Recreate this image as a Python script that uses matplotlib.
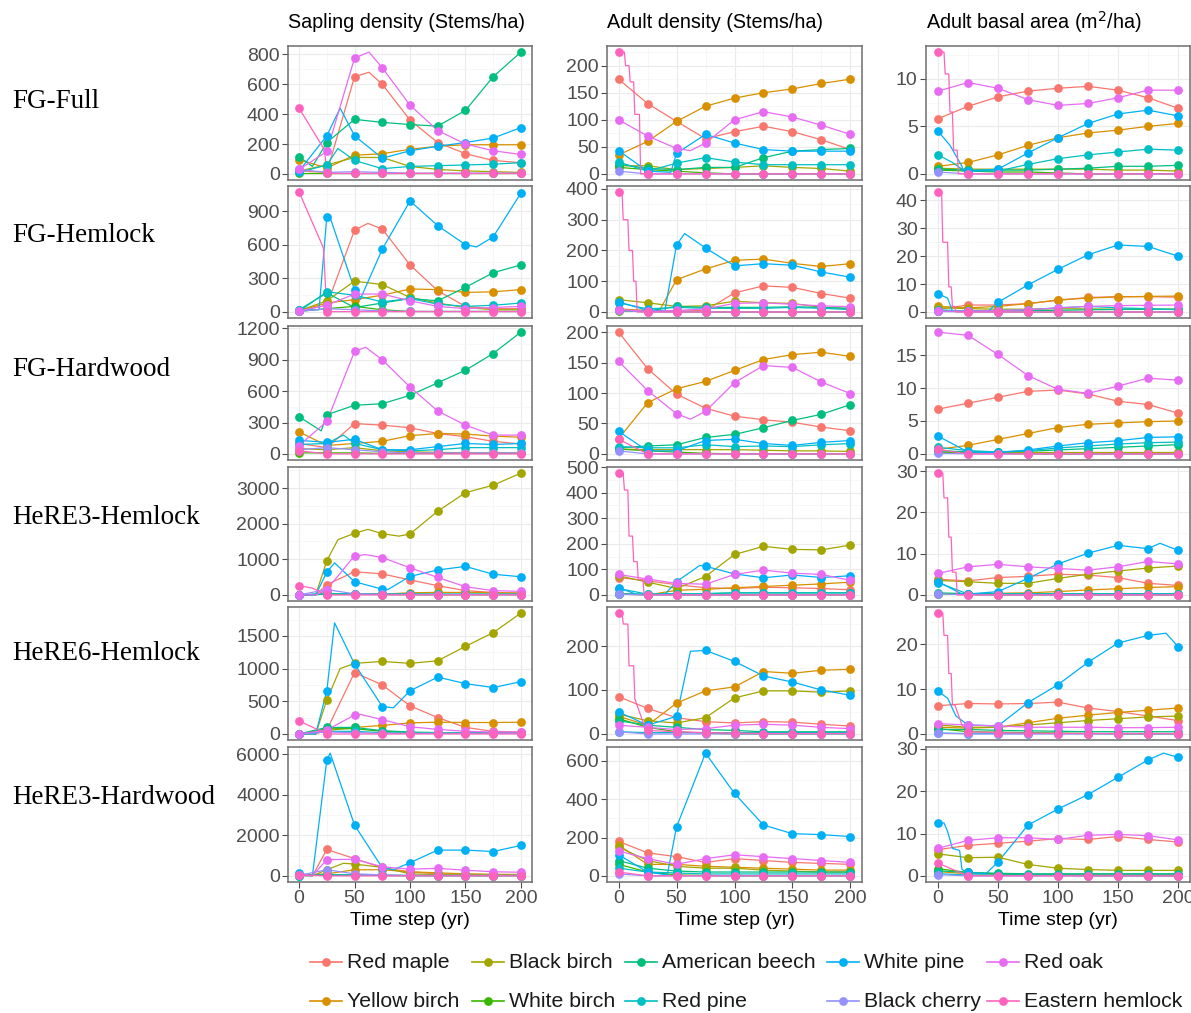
import matplotlib
matplotlib.use("Agg")
import matplotlib.pyplot as plt
from matplotlib.lines import Line2D
from matplotlib.ticker import AutoMinorLocator

W, H = 1191, 1013

SPECIES = ["Red maple", "Yellow birch", "Black birch", "White birch", "American beech",
           "Red pine", "White pine", "Black cherry", "Red oak", "Eastern hemlock"]
COLORS = ["#F8766D", "#D89000", "#A3A500", "#39B600", "#00BF7D",
          "#00BFC4", "#00B0F6", "#9590FF", "#E76BF3", "#FF62BC"]
YEARS = [0, 25, 50, 75, 100, 125, 150, 175, 200]

ROW_LABELS = ["FG-Full", "FG-Hemlock", "FG-Hardwood",
              "HeRE3-Hemlock", "HeRE6-Hemlock", "HeRE3-Hardwood"]
COL_TITLES = ["Sapling density (Stems/ha)", "Adult density (Stems/ha)",
              r"Adult basal area (m$^2$/ha)"]

# ---------------- FG-Full ----------------
fg_full_sap = {
    "Red maple":       [20, 10, 650, 600, 360, 210, 135, 90, 75],
    "Yellow birch":    [95, 40, 125, 135, 165, 185, 195, 195, 195],
    "Black birch":     [20, 60, 110, 110, 50, 30, 20, 15, 10],
    "White birch":     [5, 5, 5, 5, 5, 5, 5, 5, 5],
    "American beech":  [115, 210, 365, 345, 330, 320, 425, 650, 815],
    "Red pine":        [10, 60, 90, 35, 50, 55, 60, 65, 75],
    "White pine":      [20, 255, 255, 105, 155, 185, 210, 240, 310],
    "Black cherry":    [30, 10, 15, 10, 5, 5, 5, 5, 5],
    "Red oak":         [30, 150, 775, 710, 460, 290, 200, 155, 130],
    "Eastern hemlock": [440, 3, 3, 3, 3, 3, 3, 3, 3],
}
fg_full_sap_knots = {
    "Red oak": [(63, 815)], "Red maple": [(63, 680)], "White pine": [(37, 440)],
    "Red pine": [(35, 170)], "Eastern hemlock": [(23, 160)], "American beech": [(12, 50)],
}
fg_full_adult = {
    "Red maple":       [175, 130, 97, 65, 78, 88, 78, 63, 45],
    "Yellow birch":    [35, 60, 97, 125, 140, 150, 157, 167, 175],
    "Black birch":     [15, 15, 8, 10, 12, 15, 12, 10, 5],
    "White birch":     [12, 8, 5, 2, 0, 0, 0, 0, 0],
    "American beech":  [18, 10, 8, 12, 12, 30, 42, 45, 47],
    "Red pine":        [22, 5, 20, 30, 22, 17, 17, 17, 17],
    "White pine":      [43, 5, 38, 73, 57, 45, 42, 42, 42],
    "Black cherry":    [5, 0, 0, 0, 0, 0, 0, 0, 0],
    "Red oak":         [100, 70, 47, 57, 100, 115, 105, 90, 73],
    "Eastern hemlock": [225, 0, 0, 0, 0, 0, 0, 0, 0],
}
fg_full_adult_knots = {
    "Eastern hemlock": [(5, 225), (6, 200), (9, 200), (10, 170), (13, 170), (14, 110), (18, 110), (19, 0)],
    "Red oak": [(62, 43)], "White pine": [(45, 3)],
}
fg_full_ba = {
    "Red maple":       [5.8, 7.1, 8.1, 8.7, 9.0, 9.2, 8.8, 8.0, 6.9],
    "Yellow birch":    [0.8, 1.2, 2.0, 3.0, 3.8, 4.3, 4.6, 5.0, 5.3],
    "Black birch":     [0.6, 0.5, 0.5, 0.5, 0.5, 0.5, 0.4, 0.4, 0.3],
    "White birch":     [0.4, 0.3, 0.2, 0.2, 0.1, 0, 0, 0, 0],
    "American beech":  [0.5, 0.4, 0.4, 0.4, 0.5, 0.6, 0.8, 0.8, 0.9],
    "Red pine":        [2.0, 0.3, 0.3, 1.0, 1.6, 2.0, 2.3, 2.6, 2.5],
    "White pine":      [4.5, 0.3, 0.5, 2.2, 3.8, 5.3, 6.3, 6.7, 6.1],
    "Black cherry":    [0.2, 0, 0, 0, 0, 0, 0, 0, 0],
    "Red oak":         [8.7, 9.6, 9.0, 7.8, 7.2, 7.4, 8.0, 8.8, 8.8],
    "Eastern hemlock": [12.8, 0, 0, 0, 0, 0, 0, 0, 0],
}
fg_full_ba_knots = {
    "Eastern hemlock": [(5, 12.8), (6, 10.5), (9, 10.5), (10, 6.5), (12, 6.5), (13, 2.5), (16, 2.5), (17, 0)],
    "White pine": [(10, 3.0), (20, 0.8), (21, 0.3)], "Red pine": [(12, 1.2), (20, 0.5)],
}

# ---------------- FG-Hemlock ----------------
fg_hem_sap = {
    "Red maple":       [10, 60, 730, 740, 420, 190, 50, 30, 30],
    "Yellow birch":    [10, 80, 110, 150, 205, 200, 175, 180, 200],
    "Black birch":     [10, 100, 275, 245, 130, 80, 40, 20, 20],
    "White birch":     [5, 30, 50, 20, 5, 5, 5, 5, 5],
    "American beech":  [20, 170, 40, 80, 120, 100, 220, 350, 420],
    "Red pine":        [5, 180, 150, 90, 120, 70, 50, 60, 80],
    "White pine":      [20, 850, 200, 560, 990, 770, 600, 670, 1060],
    "Black cherry":    [5, 30, 20, 10, 5, 5, 5, 5, 5],
    "Red oak":         [10, 60, 160, 160, 100, 50, 30, 40, 50],
    "Eastern hemlock": [1070, 3, 3, 3, 3, 3, 3, 3, 3],
}
fg_hem_sap_knots = {
    "Eastern hemlock": [(22, 570)], "White pine": [(18, 20), (27, 870), (55, 110), (160, 580)],
    "Red maple": [(62, 790)],
}
fg_hem_adult = {
    "Red maple":       [5, 2, 3, 5, 62, 85, 80, 60, 45],
    "Yellow birch":    [10, 5, 105, 140, 168, 172, 158, 148, 157],
    "Black birch":     [40, 30, 18, 20, 35, 30, 28, 15, 10],
    "White birch":     [3, 2, 1, 0, 0, 0, 0, 0, 0],
    "American beech":  [5, 3, 18, 15, 15, 15, 17, 15, 12],
    "Red pine":        [30, 10, 15, 12, 12, 12, 15, 12, 8],
    "White pine":      [33, 5, 218, 208, 150, 157, 152, 130, 113],
    "Black cherry":    [5, 0, 0, 0, 0, 0, 0, 0, 0],
    "Red oak":         [8, 2, 5, 10, 28, 30, 25, 20, 17],
    "Eastern hemlock": [390, 0, 0, 0, 0, 0, 0, 0, 0],
}
fg_hem_adult_knots = {
    "Eastern hemlock": [(3, 390), (4, 300), (8, 300), (9, 200), (12, 200), (13, 100), (15, 100), (16, 0)],
    "White pine": [(40, 5), (57, 255)], "Yellow birch": [(35, 3)],
}
fg_hem_ba = {
    "Red maple":       [1.0, 2.5, 2.5, 3.0, 4.2, 5.2, 5.5, 5.5, 5.3],
    "Yellow birch":    [2.0, 1.5, 2.0, 3.0, 4.3, 5.0, 5.4, 5.6, 5.7],
    "Black birch":     [1.5, 1.2, 1.0, 1.0, 1.2, 1.1, 1.0, 1.0, 1.0],
    "White birch":     [0.3, 0.2, 0.1, 0, 0, 0, 0, 0, 0],
    "American beech":  [0.3, 0.3, 0.4, 0.5, 0.6, 0.8, 0.9, 1.0, 1.0],
    "Red pine":        [0.8, 0.3, 0.5, 0.8, 1.5, 2.0, 1.5, 1.2, 0.8],
    "White pine":      [6.5, 0.2, 3.5, 9.7, 15.3, 20.5, 24.0, 23.5, 20.0],
    "Black cherry":    [0.2, 0, 0, 0, 0, 0, 0, 0, 0],
    "Red oak":         [0.3, 0.3, 0.5, 0.8, 1.5, 2.0, 2.3, 2.4, 2.5],
    "Eastern hemlock": [43, 0, 0, 0, 0, 0, 0, 0, 0],
}
fg_hem_ba_knots = {
    "Eastern hemlock": [(3, 43), (4, 25), (8, 25), (9, 9), (11, 9), (12, 2), (14, 2), (15, 0)],
    "White pine": [(8, 5), (12, 0.3), (42, 0.3)],
}

# ---------------- FG-Hardwood ----------------
fg_hard_sap = {
    "Red maple":       [100, 60, 290, 275, 250, 195, 165, 120, 95],
    "Yellow birch":    [210, 80, 100, 120, 175, 195, 190, 170, 160],
    "Black birch":     [50, 40, 60, 30, 20, 15, 10, 10, 10],
    "White birch":     [10, 10, 10, 5, 5, 5, 5, 5, 5],
    "American beech":  [355, 375, 465, 480, 560, 680, 800, 960, 1165],
    "Red pine":        [90, 100, 100, 40, 30, 40, 60, 60, 60],
    "White pine":      [130, 110, 140, 40, 40, 70, 100, 90, 100],
    "Black cherry":    [40, 60, 40, 20, 10, 10, 10, 10, 10],
    "Red oak":         [80, 310, 980, 900, 640, 410, 275, 180, 180],
    "Eastern hemlock": [30, 0, 0, 0, 0, 0, 0, 0, 0],
}
fg_hard_sap_knots = {
    "American beech": [(20, 220)], "Red oak": [(60, 1020)], "Red pine": [(40, 180)],
}
fg_hard_adult = {
    "Red maple":       [200, 140, 98, 75, 62, 56, 52, 44, 38],
    "Yellow birch":    [25, 84, 107, 119, 137, 155, 163, 167, 160],
    "Black birch":     [8, 7, 7, 7, 7, 6, 5, 5, 4],
    "White birch":     [8, 5, 3, 1, 0, 0, 0, 0, 0],
    "American beech":  [10, 13, 15, 27, 32, 43, 55, 65, 81],
    "Red pine":        [12, 10, 10, 15, 12, 13, 12, 15, 17],
    "White pine":      [37, 5, 5, 22, 24, 17, 14, 19, 22],
    "Black cherry":    [5, 0, 0, 0, 0, 0, 0, 0, 0],
    "Red oak":         [152, 104, 66, 70, 117, 145, 142, 118, 99],
    "Eastern hemlock": [24, 0, 0, 0, 0, 0, 0, 0, 0],
}
fg_hard_adult_knots = {"Red oak": [(62, 57)]}
fg_hard_ba = {
    "Red maple":       [6.8, 7.7, 8.6, 9.5, 9.7, 9.1, 8.0, 7.5, 6.2],
    "Yellow birch":    [0.7, 1.3, 2.2, 3.1, 4.0, 4.5, 4.7, 4.9, 5.0],
    "Black birch":     [0.3, 0.3, 0.3, 0.3, 0.3, 0.3, 0.3, 0.3, 0.3],
    "White birch":     [0.3, 0.2, 0.1, 0, 0, 0, 0, 0, 0],
    "American beech":  [0.5, 0.3, 0.3, 0.4, 0.6, 0.8, 1.0, 1.2, 1.4],
    "Red pine":        [1.0, 0.5, 0.3, 0.5, 0.9, 1.2, 1.5, 1.7, 1.8],
    "White pine":      [2.7, 0.3, 0.2, 0.6, 1.2, 1.7, 2.0, 2.5, 2.6],
    "Black cherry":    [0.1, 0, 0, 0, 0, 0, 0, 0, 0],
    "Red oak":         [18.5, 18.0, 15.1, 11.9, 9.8, 9.2, 10.3, 11.5, 11.2],
    "Eastern hemlock": [0.7, 0, 0, 0, 0, 0, 0, 0, 0],
}
fg_hard_ba_knots = {}

# ---------------- HeRE3-Hemlock ----------------
here3_hem_sap = {
    "Red maple":       [0, 290, 650, 590, 420, 260, 120, 70, 50],
    "Yellow birch":    [0, 30, 20, 20, 60, 70, 70, 60, 50],
    "Black birch":     [0, 960, 1730, 1720, 1710, 2350, 2870, 3080, 3420],
    "White birch":     [0, 20, 20, 10, 5, 5, 5, 5, 5],
    "American beech":  [0, 20, 30, 30, 30, 20, 20, 20, 20],
    "Red pine":        [0, 40, 30, 20, 20, 20, 20, 20, 20],
    "White pine":      [0, 640, 370, 160, 520, 700, 800, 580, 510],
    "Black cherry":    [0, 150, 30, 20, 10, 10, 10, 10, 10],
    "Red oak":         [0, 150, 1100, 1050, 760, 490, 230, 120, 100],
    "Eastern hemlock": [260, 0, 0, 0, 0, 0, 0, 0, 0],
}
here3_hem_sap_knots = {
    "Black birch": [(15, 0), (35, 1550), (62, 1840), (90, 1650)],
    "White pine": [(15, 0), (32, 900), (80, 150)],
    "Eastern hemlock": [(12, 190)], "Red maple": [(15, 0)], "Red oak": [(15, 0), (60, 1130)],
}
here3_hem_adult = {
    "Red maple":       [68, 55, 40, 28, 25, 30, 28, 25, 20],
    "Yellow birch":    [3, 0, 18, 22, 28, 33, 38, 43, 50],
    "Black birch":     [75, 50, 25, 72, 158, 190, 178, 176, 195],
    "White birch":     [3, 1, 0, 0, 0, 0, 0, 0, 0],
    "American beech":  [5, 3, 5, 5, 8, 8, 8, 8, 8],
    "Red pine":        [25, 3, 5, 5, 8, 8, 8, 8, 8],
    "White pine":      [28, 0, 52, 112, 82, 67, 78, 68, 75],
    "Black cherry":    [3, 0, 0, 0, 0, 0, 0, 0, 0],
    "Red oak":         [80, 62, 45, 42, 80, 97, 85, 80, 57],
    "Eastern hemlock": [475, 0, 0, 0, 0, 0, 0, 0, 0],
}
here3_hem_adult_knots = {
    "Eastern hemlock": [(4, 475), (5, 410), (8, 410), (9, 230), (12, 230), (13, 130),
                        (16, 130), (17, 60), (21, 60), (22, 0)],
    "White pine": [(15, 3), (40, 3), (70, 115)],
}
here3_hem_ba = {
    "Red maple":       [3.8, 3.4, 4.2, 4.5, 5.0, 4.8, 4.2, 2.8, 2.3],
    "Yellow birch":    [0.3, 0.3, 0.4, 0.5, 0.8, 1.2, 1.5, 1.8, 2.0],
    "Black birch":     [3.5, 3.2, 2.8, 2.8, 4.0, 5.0, 5.8, 6.5, 7.0],
    "White birch":     [0.3, 0.1, 0, 0, 0, 0, 0, 0, 0],
    "American beech":  [0.5, 0.3, 0.3, 0.3, 0.3, 0.3, 0.3, 0.3, 0.3],
    "Red pine":        [3.0, 0.2, 0.2, 0.3, 0.3, 0.3, 0.3, 0.3, 0.3],
    "White pine":      [3.2, 0.2, 0.8, 4.0, 7.5, 10.1, 12.0, 11.2, 10.8],
    "Black cherry":    [0.3, 0, 0, 0, 0, 0, 0, 0, 0],
    "Red oak":         [5.2, 6.8, 7.4, 6.8, 6.4, 6.0, 6.8, 8.1, 7.5],
    "Eastern hemlock": [29.5, 0, 0, 0, 0, 0, 0, 0, 0],
}
here3_hem_ba_knots = {
    "Eastern hemlock": [(4, 29.5), (5, 23.5), (8, 23.5), (9, 14), (11, 14), (12, 5.5), (15, 5.5), (16, 0)],
    "White pine": [(20, 0.2), (185, 12.5)],
}

# ---------------- HeRE6-Hemlock ----------------
here6_hem_sap = {
    "Red maple":       [0, 60, 940, 750, 430, 250, 100, 40, 30],
    "Yellow birch":    [0, 50, 100, 130, 170, 180, 175, 175, 180],
    "Black birch":     [0, 520, 1080, 1110, 1080, 1120, 1340, 1550, 1850],
    "White birch":     [0, 80, 80, 40, 20, 10, 10, 10, 10],
    "American beech":  [0, 100, 100, 50, 30, 20, 20, 20, 20],
    "Red pine":        [0, 40, 40, 20, 10, 10, 10, 10, 10],
    "White pine":      [0, 660, 1070, 420, 660, 870, 770, 710, 800],
    "Black cherry":    [0, 30, 20, 10, 10, 10, 10, 10, 10],
    "Red oak":         [0, 60, 290, 220, 110, 70, 40, 30, 30],
    "Eastern hemlock": [200, 0, 0, 0, 0, 0, 0, 0, 0],
}
here6_hem_sap_knots = {
    "Black birch": [(15, 0), (37, 1000)], "White pine": [(15, 0), (32, 1700), (85, 400)],
    "Red maple": [(15, 0)], "Red oak": [(55, 300)],
}
here6_hem_adult = {
    "Red maple":       [85, 58, 37, 28, 25, 28, 27, 22, 18],
    "Yellow birch":    [40, 20, 70, 98, 107, 142, 138, 145, 147],
    "Black birch":     [45, 30, 25, 37, 82, 98, 98, 95, 98],
    "White birch":     [35, 15, 5, 2, 0, 0, 0, 0, 0],
    "American beech":  [30, 20, 15, 10, 8, 5, 5, 5, 5],
    "Red pine":        [5, 3, 3, 3, 3, 3, 3, 3, 3],
    "White pine":      [50, 20, 40, 190, 165, 132, 118, 100, 88],
    "Black cherry":    [5, 0, 0, 0, 0, 0, 0, 0, 0],
    "Red oak":         [20, 15, 10, 12, 20, 22, 20, 15, 12],
    "Eastern hemlock": [275, 8, 5, 3, 2, 1, 1, 1, 1],
}
here6_hem_adult_knots = {
    "Eastern hemlock": [(3, 275), (4, 250), (8, 250), (9, 155), (13, 155), (14, 80), (18, 50), (22, 20)],
    "White pine": [(62, 188)],
}
here6_hem_ba = {
    "Red maple":       [6.3, 6.8, 6.7, 6.8, 7.1, 5.8, 5.0, 4.0, 3.0],
    "Yellow birch":    [1.5, 1.3, 1.5, 2.5, 3.5, 4.2, 4.8, 5.3, 5.8],
    "Black birch":     [2.0, 1.5, 1.5, 2.0, 2.5, 3.0, 3.4, 3.8, 4.0],
    "White birch":     [1.2, 0.5, 0.4, 0.3, 0.2, 0.1, 0, 0, 0],
    "American beech":  [1.0, 1.0, 0.8, 0.7, 0.6, 0.5, 0.5, 0.5, 0.5],
    "Red pine":        [0.2, 0.1, 0.1, 0.1, 0.1, 0.1, 0.1, 0.1, 0.1],
    "White pine":      [9.5, 2.0, 1.8, 7.0, 11.0, 16.0, 20.3, 22.0, 19.5],
    "Black cherry":    [0.2, 0, 0, 0, 0, 0, 0, 0, 0],
    "Red oak":         [2.3, 2.0, 1.8, 1.5, 1.5, 1.5, 1.4, 1.4, 1.5],
    "Eastern hemlock": [27, 0.5, 0.3, 0.2, 0.1, 0.1, 0.1, 0.1, 0.1],
}
here6_hem_ba_knots = {
    "Eastern hemlock": [(4, 27), (5, 22), (8, 22), (9, 13.5), (11, 13.5), (12, 6.5), (14, 6.5), (20, 2)],
    "White pine": [(8, 8), (15, 4), (190, 22.5)],
}

# ---------------- HeRE3-Hardwood ----------------
here3_hard_sap = {
    "Red maple":       [30, 1300, 850, 400, 200, 100, 80, 50, 40],
    "Yellow birch":    [20, 100, 300, 300, 200, 150, 100, 80, 70],
    "Black birch":     [30, 300, 580, 420, 100, 60, 50, 40, 40],
    "White birch":     [10, 50, 50, 20, 10, 10, 10, 10, 10],
    "American beech":  [10, 40, 40, 30, 20, 20, 20, 20, 20],
    "Red pine":        [10, 50, 40, 20, 10, 10, 10, 10, 10],
    "White pine":      [150, 5700, 2500, 400, 650, 1270, 1270, 1200, 1500],
    "Black cherry":    [20, 300, 100, 50, 20, 20, 20, 20, 20],
    "Red oak":         [30, 800, 820, 450, 330, 370, 280, 200, 180],
    "Eastern hemlock": [50, 0, 0, 0, 0, 0, 0, 0, 0],
}
here3_hard_sap_knots = {
    "White pine": [(12, 0), (28, 6050), (85, 300)], "Red maple": [(12, 0)],
    "Red oak": [(12, 0)], "Black birch": [(12, 0), (40, 620)],
}
here3_hard_adult = {
    "Red maple":       [180, 120, 100, 70, 90, 80, 70, 65, 60],
    "Yellow birch":    [160, 60, 60, 50, 45, 40, 35, 30, 30],
    "Black birch":     [150, 80, 50, 40, 40, 30, 25, 20, 20],
    "White birch":     [60, 20, 5, 2, 0, 0, 0, 0, 0],
    "American beech":  [80, 40, 25, 20, 20, 20, 20, 20, 20],
    "Red pine":        [40, 20, 15, 10, 10, 10, 10, 10, 10],
    "White pine":      [110, 20, 255, 640, 430, 265, 220, 215, 205],
    "Black cherry":    [10, 0, 0, 0, 0, 0, 0, 0, 0],
    "Red oak":         [130, 90, 60, 90, 110, 100, 90, 80, 70],
    "Eastern hemlock": [20, 0, 0, 0, 0, 0, 0, 0, 0],
}
here3_hard_adult_knots = {"White pine": [(42, 5)]}
here3_hard_ba = {
    "Red maple":       [6.2, 7.2, 7.7, 8.2, 8.8, 8.6, 9.3, 8.6, 8.0],
    "Yellow birch":    [1.0, 0.5, 0.4, 0.3, 0.3, 0.3, 0.3, 0.3, 0.3],
    "Black birch":     [5.2, 4.3, 4.4, 2.7, 1.8, 1.5, 1.3, 1.3, 1.3],
    "White birch":     [1.7, 0.8, 0.5, 0.3, 0.2, 0, 0, 0, 0],
    "American beech":  [1.2, 0.8, 0.6, 0.5, 0.5, 0.5, 0.5, 0.5, 0.5],
    "Red pine":        [0.5, 0.2, 0.2, 0.2, 0.2, 0.2, 0.2, 0.2, 0.2],
    "White pine":      [12.5, 0.8, 3.3, 12.0, 15.8, 19.2, 23.3, 27.4, 28.0],
    "Black cherry":    [0.3, 0, 0, 0, 0, 0, 0, 0, 0],
    "Red oak":         [6.5, 8.4, 9.0, 9.0, 8.6, 9.6, 9.8, 9.5, 8.5],
    "Eastern hemlock": [3.0, 0, 0, 0, 0, 0, 0, 0, 0],
}
here3_hard_ba_knots = {
    "White pine": [(5, 12.5), (8, 10.5), (12, 6.5), (18, 6), (20, 1.5), (40, 0.5), (188, 29)],
}

PANELS = [
    [(fg_full_sap, fg_full_sap_knots, [0, 200, 400, 600, 800]),
     (fg_full_adult, fg_full_adult_knots, [0, 50, 100, 150, 200]),
     (fg_full_ba, fg_full_ba_knots, [0, 5, 10])],
    [(fg_hem_sap, fg_hem_sap_knots, [0, 300, 600, 900]),
     (fg_hem_adult, fg_hem_adult_knots, [0, 100, 200, 300, 400]),
     (fg_hem_ba, fg_hem_ba_knots, [0, 10, 20, 30, 40])],
    [(fg_hard_sap, fg_hard_sap_knots, [0, 300, 600, 900, 1200]),
     (fg_hard_adult, fg_hard_adult_knots, [0, 50, 100, 150, 200]),
     (fg_hard_ba, fg_hard_ba_knots, [0, 5, 10, 15])],
    [(here3_hem_sap, here3_hem_sap_knots, [0, 1000, 2000, 3000]),
     (here3_hem_adult, here3_hem_adult_knots, [0, 100, 200, 300, 400, 500]),
     (here3_hem_ba, here3_hem_ba_knots, [0, 10, 20, 30])],
    [(here6_hem_sap, here6_hem_sap_knots, [0, 500, 1000, 1500]),
     (here6_hem_adult, here6_hem_adult_knots, [0, 100, 200]),
     (here6_hem_ba, here6_hem_ba_knots, [0, 10, 20])],
    [(here3_hard_sap, here3_hard_sap_knots, [0, 2000, 4000, 6000]),
     (here3_hard_adult, here3_hard_adult_knots, [0, 200, 400, 600]),
     (here3_hard_ba, here3_hard_ba_knots, [0, 10, 20, 30])],
]

# panel boxes in pixels: (left, right) per column, (top, bottom) per row
COL_X = [(288, 532), (607, 862), (926, 1190)]
ROW_Y = [(46, 180), (186, 318), (326, 460), (467, 601), (607, 740), (747, 882)]
ROW_LABEL_Y = [101, 235, 370, 517, 653, 797]

TICK_GREY = "#4D4D4D"
SANS = "Liberation Sans"

fig = plt.figure(figsize=(W / 100, H / 100), dpi=100)
fig.patch.set_facecolor("white")


def add_axes_px(left, right, top, bottom):
    return fig.add_axes([left / W, 1 - bottom / H, (right - left) / W, (bottom - top) / H])


def line_series(values, knots):
    merged = dict(zip(YEARS, values))
    for t, v in knots:
        merged[t] = v
    ts = sorted(merged)
    return ts, [merged[t] for t in ts]


for r, row in enumerate(PANELS):
    for c, (data, knots, yticks) in enumerate(row):
        ax = add_axes_px(COL_X[c][0], COL_X[c][1], ROW_Y[r][0], ROW_Y[r][1])
        ymax = 0
        for k, sp in enumerate(SPECIES):
            ts, vs = line_series(data[sp], knots.get(sp, []))
            ymax = max(ymax, max(vs))
            ax.plot(ts, vs, color=COLORS[k], lw=0.9, zorder=2 + k * 0.01)
        for k, sp in enumerate(SPECIES):
            ax.plot(YEARS, data[sp], ls="none", marker="o", ms=6.3, mew=0,
                    color=COLORS[k], zorder=3 + k * 0.01)
        pad = 0.05 * ymax
        ax.set_ylim(-pad, ymax + pad)
        ax.set_xlim(-10, 210)
        ax.set_yticks(yticks)
        ax.set_xticks([0, 50, 100, 150, 200])
        ax.xaxis.set_minor_locator(AutoMinorLocator(2))
        ax.yaxis.set_minor_locator(AutoMinorLocator(2))
        ax.grid(True, which="major", color="#EBEBEB", lw=0.8, zorder=0)
        ax.grid(True, which="minor", color="#F4F4F4", lw=0.5, zorder=0)
        ax.set_axisbelow(True)
        for s in ax.spines.values():
            s.set_color("#6E6E6E")
            s.set_linewidth(1.1)
        ax.tick_params(axis="y", which="major", labelsize=14, colors=TICK_GREY,
                       length=4, width=0.8, pad=2)
        ax.tick_params(which="minor", length=0)
        for lab in ax.get_yticklabels():
            lab.set_fontfamily(SANS)
        if r == len(PANELS) - 1:
            ax.tick_params(axis="x", which="major", labelsize=14, colors=TICK_GREY,
                           length=4, width=0.8, pad=2)
            for lab in ax.get_xticklabels():
                lab.set_fontfamily(SANS)
            ax.set_xlabel("Time step (yr)", fontsize=14, family=SANS, color="black", labelpad=3)
        else:
            ax.tick_params(axis="x", which="major", length=0, labelbottom=False)

# column titles
for c, title in enumerate(COL_TITLES):
    fig.text(COL_X[c][0] / W, 1 - 22 / H, title, ha="left", va="center",
             fontsize=14.2, family=SANS, color="black")

# row labels
for r, lab in enumerate(ROW_LABELS):
    fig.text(12 / W, 1 - ROW_LABEL_Y[r] / H, lab, ha="left", va="center",
             fontsize=19.5, family="Liberation Serif", color="black")

# legend (two rows, filled column by column)
LEG_GLYPH_X = [326, 488, 641, 843, 1003]
LEG_ROW_Y = [962, 1001]
for k, sp in enumerate(SPECIES):
    col, rw = divmod(k, 2)
    gx, gy = LEG_GLYPH_X[col], LEG_ROW_Y[rw]
    fig.add_artist(Line2D([(gx - 16) / W, (gx + 16) / W], [1 - gy / H, 1 - gy / H],
                          transform=fig.transFigure, color=COLORS[k], lw=1.2))
    fig.add_artist(Line2D([gx / W], [1 - gy / H], transform=fig.transFigure,
                          ls="none", marker="o", ms=6.3, mew=0, color=COLORS[k]))
    fig.text((gx + 21) / W, 1 - gy / H, sp, ha="left", va="center",
             fontsize=15.3, family=SANS, color="#1A1A1A")

fig.savefig("out.png", dpi=100, facecolor="white")
